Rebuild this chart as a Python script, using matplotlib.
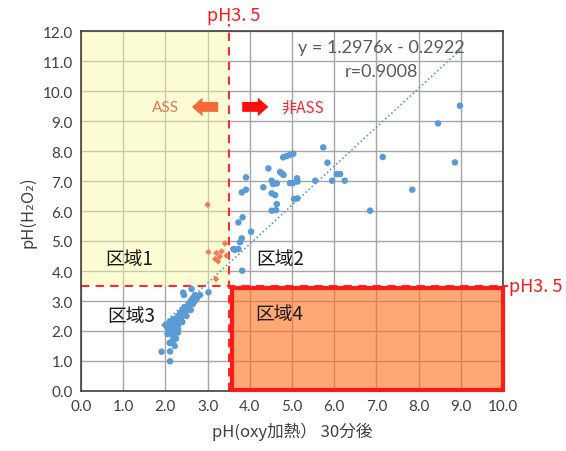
import matplotlib
matplotlib.use("Agg")
import matplotlib.pyplot as plt
from matplotlib.patches import Rectangle, FancyArrow
import numpy as np

plt.rcParams['font.family'] = ['Lato', 'Noto Sans CJK JP', 'DejaVu Sans']
JP = ['Noto Sans CJK JP', 'DejaVu Sans']

# pH after 30 min oxy heating (x) vs pH(H2O2) (y)
blue_x = [3.61, 3.73, 3.65, 3.82, 3.77, 3.81, 3.73, 3.83, 4.03, 3.81, 3.91, 3.91,
          4.32, 4.44, 4.72, 4.76, 4.80, 4.52, 4.55, 4.64, 4.52, 4.60, 4.64, 4.52,
          4.62, 4.79, 4.87, 4.95, 5.03, 4.95, 5.02, 5.12, 5.13, 5.05, 5.13, 5.55,
          5.74, 5.84, 5.95, 6.06, 6.14, 6.25, 6.85, 7.15, 7.85, 8.46, 8.86, 8.98,
          2.00, 2.05, 2.10, 2.10, 2.15, 2.15, 2.20, 2.20, 2.25, 2.25, 2.30, 2.30,
          2.35, 2.35, 2.40, 2.40, 2.40, 2.45, 2.45, 2.50, 2.50, 2.55, 2.55, 2.60,
          2.60, 2.65, 2.65, 2.70, 2.70, 2.75, 2.10, 2.20, 2.20, 2.05, 2.30, 2.25,
          2.15, 2.30, 1.91, 2.11, 2.11, 2.22, 2.17, 3.02, 2.62, 2.42, 2.44, 2.82]
blue_y = [4.73, 4.73, 4.71, 4.01, 4.96, 5.09, 5.62, 5.79, 5.31, 6.62, 6.71, 7.12,
          6.79, 7.42, 7.30, 7.25, 7.20, 7.01, 6.90, 6.92, 6.59, 6.53, 6.23, 6.01,
          6.03, 7.79, 7.83, 7.87, 7.91, 6.93, 6.93, 7.09, 6.98, 6.40, 6.42, 7.01,
          8.12, 7.61, 7.01, 7.23, 7.23, 7.01, 6.01, 7.80, 6.71, 8.92, 7.62, 9.51,
          2.20, 2.10, 2.00, 2.30, 1.90, 2.20, 2.10, 2.40, 2.00, 2.30, 2.20, 2.50,
          2.40, 2.60, 2.30, 2.50, 2.70, 2.60, 2.80, 2.50, 2.70, 2.80, 2.90, 2.70,
          3.00, 2.90, 3.10, 3.00, 3.20, 3.10, 1.60, 1.70, 1.80, 1.90, 1.95, 1.75,
          2.35, 2.05, 1.31, 0.99, 1.32, 1.50, 1.68, 3.29, 3.40, 3.28, 3.20, 3.20]

# samples in zone 1 (ASS by oxy heating)
ass_x = [3.00, 3.02, 3.41, 3.33, 3.45, 3.21, 3.29, 3.18, 3.25, 3.20]
ass_y = [6.21, 4.63, 4.92, 4.65, 4.51, 4.60, 4.48, 4.40, 4.32, 3.73]

slope, intercept, r = 1.2976, -0.2922, 0.9008
threshold = 3.5

xticks = np.arange(0, 11, 1.0)
yticks = np.arange(0, 13, 1.0)

fig = plt.figure(figsize=(5.66, 4.52), dpi=100)
ax = fig.add_axes([81/566, 60/452, 422/566, 360/452])
ax.set_xlim(0, 10)
ax.set_ylim(0, 12)
ax.set_xticks(xticks)
ax.set_yticks(yticks)
ax.set_xticklabels([f"{v:.1f}" for v in xticks])
ax.set_yticklabels([f"{v:.1f}" for v in yticks])
ax.tick_params(length=0, labelsize=11, labelcolor='#404040', pad=6)
ax.grid(True, color='#a6a6a6', lw=1.0, zorder=0)
ax.set_axisbelow(True)
for s in ax.spines.values():
    s.set_color('#404040')
    s.set_linewidth(1.2)

# shaded zones
ax.add_patch(Rectangle((0, threshold), threshold, 12 - threshold,
                       facecolor=(250/255, 250/255, 160/255), alpha=0.44,
                       edgecolor='none', zorder=1))
ax.add_patch(Rectangle((3.57, 0.05), 10 - 3.57, 3.45 - 0.05,
                       facecolor=(1.0, 110/255, 26/255), alpha=0.6,
                       edgecolor='none', zorder=1))
ax.add_patch(Rectangle((3.57, 0.05), 10 - 3.57, 3.45 - 0.05,
                       facecolor='none', edgecolor='#ff1a1a', lw=3, zorder=3,
                       clip_on=False))

# pH 3.5 threshold lines
ax.plot([threshold, threshold], [0, 12.25], color='#ff2a2a', lw=1.5,
        dashes=(4, 3), clip_on=False, zorder=2)
ax.plot([0, 10.12], [threshold, threshold], color='#ff2a2a', lw=1.5,
        dashes=(4, 3), clip_on=False, zorder=2)
ax.text(3.63, 12.53, "pH3. 5", color='#ff1a1a', fontsize=13, family=JP,
        ha='center', va='center')
ax.text(10.15, 3.5, "pH3. 5", color='#ff1a1a', fontsize=13, family=JP,
        ha='left', va='center')

# regression line
lx = np.array([min(blue_x), max(blue_x)])
ax.plot(lx, slope * lx + intercept, color='#5b9bd5', lw=1.2, ls=(0, (1, 1.5)),
        zorder=4)

ax.scatter(blue_x, blue_y, s=22, color='#5b9bd5', edgecolors='none', zorder=5)
ax.scatter(ass_x, ass_y, s=11, marker='D', color='#ed7d57', edgecolors='none',
           zorder=5)

ax.text(7.11, 11.47, f"y = {slope}x - {abs(intercept)}", fontsize=13,
        color='#595959', ha='center', va='center', zorder=6)
ax.text(7.11, 10.67, f"r={r}", fontsize=13, color='#595959',
        ha='center', va='center', zorder=6)

# ASS / non-ASS arrows
ax.add_patch(FancyArrow(3.25, 9.47, -0.62, 0, width=0.33, head_width=0.62,
                        head_length=0.25, length_includes_head=True,
                        color='#f5693c', lw=0, zorder=6))
ax.add_patch(FancyArrow(3.82, 9.47, 0.62, 0, width=0.33, head_width=0.62,
                        head_length=0.25, length_includes_head=True,
                        color='#ff0d0d', lw=0, zorder=6))
ax.text(2.01, 9.47, "ASS", fontsize=11, color='#f07050', ha='center',
        va='center', zorder=6)
ax.text(5.26, 9.47, "非ASS", fontsize=11, color='#ff2030', ha='center',
        va='center', family=JP, zorder=6)

# zone labels
for label, x, y in [("区域1", 1.14, 4.4), ("区域2", 4.72, 4.4),
                    ("区域3", 1.18, 2.51), ("区域4", 4.69, 2.57)]:
    ax.text(x, y, label, fontsize=13.5, family=JP, color='#1a1a1a',
            ha='center', va='center', zorder=6)

ax.set_xlabel("pH(oxy加熱） 30分後", fontsize=12, family=JP, color='#404040',
              labelpad=6)
ax.set_ylabel("pH(H₂O₂)", fontsize=12, family=JP, color='#404040', labelpad=4)

fig.savefig("out.png", dpi=100)
